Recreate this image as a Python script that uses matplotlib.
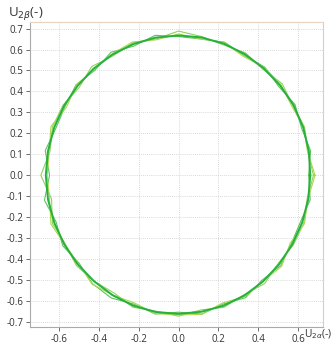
import numpy as np
import matplotlib
matplotlib.use("Agg")
import matplotlib.pyplot as plt

plt.rcParams['font.family'] = ['Open Sans', 'DejaVu Sans']

# angle samples (degrees) of the trajectory
angles_deg = [0, 10, 20, 30, 40, 50, 60, 70, 80, 90, 100, 110,
              120, 130, 140, 150, 160, 170, 180, 190, 200, 210, 220, 230,
              240, 250, 260, 270, 280, 290, 300, 310, 320, 330, 340, 350]

# averaged (smooth) trajectory radius
r_main = [0.662, 0.665, 0.667, 0.668, 0.667, 0.666, 0.667, 0.668, 0.668, 0.667, 0.667, 0.666,
          0.665, 0.664, 0.663, 0.664, 0.665, 0.666, 0.667, 0.666, 0.664, 0.662, 0.661, 0.660,
          0.661, 0.662, 0.662, 0.661, 0.661, 0.662, 0.662, 0.661, 0.660, 0.660, 0.661, 0.662]

# measured (noisy) trajectories radius
r_noisy1 = [0.678, 0.660, 0.674, 0.664, 0.680, 0.660, 0.674, 0.662, 0.672, 0.688, 0.660, 0.672,
            0.658, 0.678, 0.652, 0.670, 0.674, 0.656, 0.692, 0.648, 0.674, 0.656, 0.670, 0.660,
            0.648, 0.670, 0.658, 0.672, 0.652, 0.670, 0.658, 0.674, 0.654, 0.666, 0.670, 0.656]
r_noisy2 = [0.654, 0.674, 0.658, 0.676, 0.658, 0.674, 0.660, 0.676, 0.660, 0.662, 0.678, 0.656,
            0.678, 0.654, 0.672, 0.658, 0.656, 0.680, 0.648, 0.684, 0.654, 0.672, 0.652, 0.674,
            0.676, 0.654, 0.672, 0.653, 0.672, 0.654, 0.674, 0.653, 0.670, 0.654, 0.652, 0.672]
r_noisy3 = [0.686, 0.658, 0.670, 0.658, 0.672, 0.672, 0.654, 0.674, 0.660, 0.674, 0.656, 0.677,
            0.668, 0.660, 0.670, 0.650, 0.682, 0.660, 0.660, 0.658, 0.682, 0.660, 0.656, 0.677,
            0.660, 0.648, 0.670, 0.666, 0.674, 0.648, 0.668, 0.660, 0.676, 0.648, 0.674, 0.660]

x_ticks = [-0.6, -0.4, -0.2, 0.0, 0.2, 0.4, 0.6]
y_ticks = [-0.7, -0.6, -0.5, -0.4, -0.3, -0.2, -0.1, 0.0, 0.1, 0.2, 0.3, 0.4, 0.5, 0.6, 0.7]
x_label = "U$_{2\\alpha}$(-)"
y_label = "U$_{2\\beta}$(-)"

fig = plt.figure(figsize=(3.34, 3.45), dpi=100)
ax = fig.add_axes([0.090, 0.052, 0.877, 0.884])

th = np.deg2rad(angles_deg + [angles_deg[0]])

def xy(r):
    rr = np.array(r + [r[0]])
    return rr * np.cos(th), rr * np.sin(th)

for r, c in [(r_noisy1, '#8fd45a'), (r_noisy2, '#5cc55a'), (r_noisy3, '#aad84e')]:
    x, y = xy(r)
    ax.plot(x, y, color=c, lw=0.8, zorder=2)
x, y = xy(r_main)
ax.plot(x, y, color='#27b040', lw=1.4, zorder=3)

ax.set_xlim(-0.746, 0.726)
ax.set_ylim(-0.724, 0.731)
ax.set_xticks(x_ticks)
ax.set_xticklabels([f"{v:.1f}" for v in x_ticks])
ax.set_yticks(y_ticks)
ax.set_yticklabels([f"{v:.1f}" for v in y_ticks])
ax.grid(True, color='#cccccc', ls=(0, (1, 1.5)), lw=0.6)
ax.set_axisbelow(True)
ax.tick_params(labelsize=7, colors='#555555', length=3, width=0.6, pad=2)
for t in ax.get_xticklabels() + ax.get_yticklabels():
    t.set_color('#333333')
ax.spines['left'].set_color('#aaaaaa')
ax.spines['bottom'].set_color('#aaaaaa')
ax.spines['top'].set_color('#e8d2c0')
ax.spines['right'].set_color('#c8d4dc')
for s in ax.spines.values():
    s.set_linewidth(0.8)

fig.text(0.025, 0.985, y_label, fontsize=9.5, color='#333333', va='top', ha='left')
fig.text(0.996, 0.012, x_label, fontsize=7.5, color='#333333', va='bottom', ha='right')

fig.savefig("out.png", dpi=100)
